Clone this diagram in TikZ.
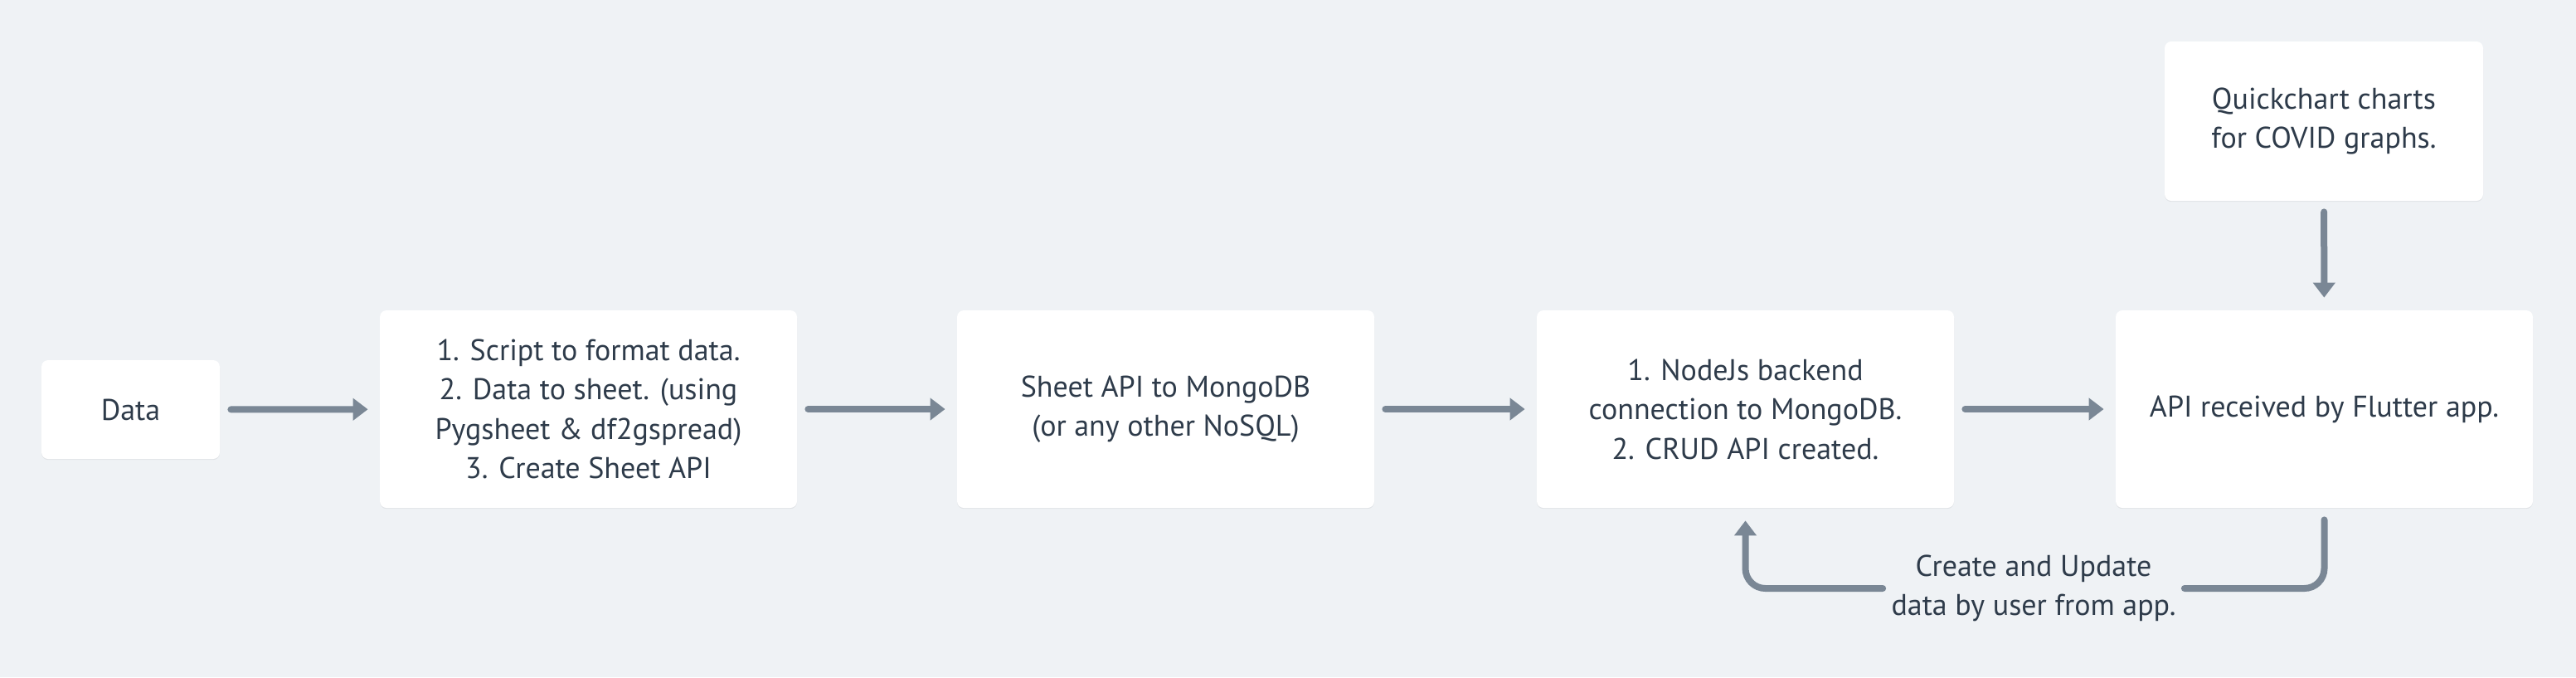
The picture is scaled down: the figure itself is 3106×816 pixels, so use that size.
\documentclass[tikz,border=0pt]{standalone}
\usepackage{fontspec}
\setmainfont{PT Sans}
\usetikzlibrary{arrows.meta,shadows}
\definecolor{bgc}{HTML}{EFF2F5}
\definecolor{txt}{HTML}{2E3B4A}
\definecolor{arr}{HTML}{7A8795}
\tikzset{
  box/.style={rectangle, rounded corners=4pt, fill=white, text=txt, align=center,
    font=\fontsize{18}{23.75}\selectfont,
    drop shadow={shadow xshift=0pt, shadow yshift=-0.6pt, opacity=0.06, fill=black}},
  bigbox/.style={box, minimum width=251.5pt, minimum height=119pt},
  conn/.style={draw=arr, line width=4pt, line cap=round,
    -{Triangle[width=13pt,length=9pt]}},
  plain/.style={draw=arr, line width=4pt, line cap=round},
  lbl/.style={text=txt, align=center, inner xsep=5pt, inner ysep=0pt,
    font=\fontsize{18}{23.75}\selectfont}
}
\begin{document}
\begin{tikzpicture}[x=0.5pt,y=-0.5pt]
\fill[bgc] (0,0) rectangle (3106,816);
\useasboundingbox (0,0) rectangle (3106,816);
\node[box, minimum width=107.5pt, minimum height=59.5pt] (data) at (157.5,493.5) {Data};
\node[bigbox] (b2) at (709.5,493) {1. Script to format data.\\2. Data to sheet. (using\\Pygsheet \& df2gspread)\\3. Create Sheet API};
\node[bigbox] (b3) at (1405.5,493) {Sheet API to MongoDB\\(or any other NoSQL)};
\node[bigbox] (b4) at (2104.5,493) {1. NodeJs backend\\connection to MongoDB.\\2. CRUD API created.};
\node[bigbox] (b5) at (2802.5,493) {API received by Flutter app.};
\node[box, minimum width=192pt, minimum height=96pt] (qc) at (2802,146) {Quickchart charts\\for COVID graphs.};
\node[lbl] (fb) at (2452,709) {Create and Update\\data by user from app.};
\draw[conn, shorten <=6.5pt, shorten >=7pt] (data) -- (b2);
\draw[conn, shorten <=6.5pt, shorten >=7pt] (b2) -- (b3);
\draw[conn, shorten <=6.5pt, shorten >=7pt] (b3) -- (b4);
\draw[conn, shorten <=6.5pt, shorten >=7pt] (b4) -- (b5);
\draw[conn, shorten <=6.5pt, shorten >=7.5pt] (qc) -- (b5);
\draw[plain, rounded corners=12pt, shorten <=7pt] (b5.south) |- (fb.east);
\draw[conn, rounded corners=12pt, shorten >=7.5pt] (fb.west) -| (b4.south);
\end{tikzpicture}
\end{document}
